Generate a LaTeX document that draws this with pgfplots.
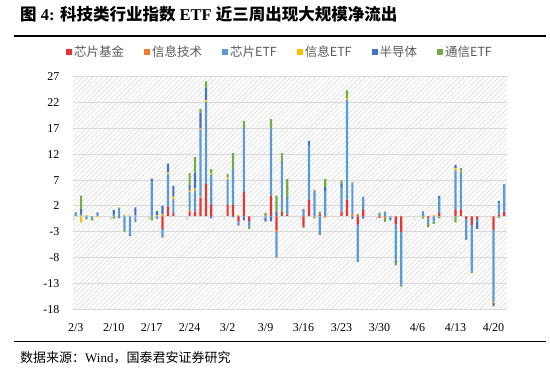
\documentclass[border=0pt]{standalone}
\usepackage{fontspec}
\setmainfont{Liberation Serif}
\newfontfamily\cjk{Noto Sans CJK SC}
\usepackage{pgfplots}
\pgfplotsset{compat=1.18}
\usepackage{pgfplotstable}
\usetikzlibrary{patterns.meta}
\definecolor{cA}{RGB}{235,51,51}
\definecolor{cB}{RGB}{237,125,49}
\definecolor{cC}{RGB}{91,155,213}
\definecolor{cE}{RGB}{255,192,0}
\definecolor{cF}{RGB}{68,114,196}
\definecolor{cG}{RGB}{112,173,71}
\definecolor{lgray}{RGB}{89,89,89}
\definecolor{gridc}{RGB}{217,217,217}

% a=芯片基金 b=信息技术 c=芯片ETF e=信息ETF f=半导体 g=通信ETF ; d = days since 2/3
\pgfplotstableread{
d a b c e f g
0 0 0 0.3 0 0.2 0.3
1 0 0.1 0.2 0 1.1 2.6
2 0 0.1 0 0.1 0 0
3 0 0 0 0 0 0
4 0 0 0.35 0 0.35 0
7 0 0 0.4 0 0.85 0
8 0 0 1.6 0.1 0 0
9 0 0 0 0.2 0 0
10 0 0.1 0 0 0 0
11 0 0 0 0.1 1.6 0
14 0 0 6.8 0 0.5 0
15 0 0 0 0.2 0.8 0
16 0 0.2 0 0.2 1.6 0
17 1.9 0 6.35 0.25 1.7 0
18 0.6 0 2.7 0.5 2.1 0
21 0.8 0.45 3.4 0.3 1.15 2.25
22 0.9 0 4.0 0.45 3.1 3.0
23 3.5 0.3 13.0 0.2 3.1 0.7
24 6.2 0 15.9 0.4 2.4 1.2
25 2.2 0 5.8 0.3 0 0.8
28 2.2 0 4.9 0.4 0.2 0.5
29 2.2 0 6.9 0 0 3.1
30 0 0 0 0.2 0 0
31 4.65 0 12.4 0 0 1.4
32 0 0 0 0 0 0
35 0 0.2 0 0 0 0.4
36 4.0 0 13.0 0 0 1.8
37 0 0 0 0 0.9 3.1
38 0.8 0.25 9.0 0 0.4 1.75
39 0.25 0.15 2.9 0 0.3 3.6
42 0 0 0.9 0 0.45 0
43 3.2 0 10.6 0 0.8 0
44 0 0 5.0 0.2 0 0
45 0.35 0 0 0 0 0.55
46 0 0 4.85 0 0.85 1.5
49 0.9 0 4.8 0 0.65 0.6
50 3.1 0.2 19.2 0.3 0 1.55
51 0 0.4 5.9 0 0 0.3
52 0 0.4 0 0 0 0
53 1.2 0 2.6 0 0 0
56 0 0 0.2 0 0 0.5
57 0 0 0.9 0 0 0
58 0 0 0 0 0 0
59 0 0 0 0 0 0
60 0 0 0 0 0 0
64 0 0 1.0 0 0 0
65 0 0 0 0 0 0
66 0 0 0 0.2 0 0
67 0.65 0 2.85 0 0.45 0
70 1.35 0 7.55 0.4 0.65 0
71 1.35 0 7.2 0.15 0.1 0.5
72 0 0 0 0 0 0
73 0 0 0 0 0 0
74 0 0 0 0 0 0
77 0 0 0 0 0 0
78 0.35 0 2.15 0 0.45 0
79 0.9 0 5.3 0 0 0
}\pos

\pgfplotstableread{
d a b c e f g
0 0 0 0 0 0 0
1 0 0 0 -1.2 0 0
2 0 0 -0.3 0 0 -0.3
3 0 0 -0.3 0 0 -0.5
4 0 0 0 -0.2 0 0
7 0 0 0 0 0 -0.45
8 0 0 0 0 -0.3 0
9 0 0 -2.7 0 0 -0.25
10 0 0 -3.5 0 -0.3 0
11 0 0 -1.1 0 0 0
14 0 0 0 0 0 -0.8
15 0 0 -0.5 0 0 0
16 -2.5 0 -1.5 0 0 -0.15
17 0 0 0 0 0 0
18 0 0 0 0 0 0
21 0 0 0 0 0 0
22 0 0 0 0 0 0
23 0 0 0 0 0 0
24 0 0 0 0 0 0
25 0 0 0 0 -0.4 0
28 0 0 0 0 0 0
29 0 0 0 0 -0.2 0
30 -1.0 0 -0.8 0 0 0
31 0 0 0 0 -0.8 0
32 -0.9 0 -1.1 0 0 -0.5
35 0 0 -0.5 0 -0.5 0
36 0 0 0 0 -1.0 0
37 -2.75 -0.25 -5.0 0 0 0
38 0 0 0 0 0 0
39 0 0 0 0 0 0
42 -2.0 0 0 0 0 -0.25
43 0 0 0 0 0 0
44 0 0 0 0 0 -0.4
45 0 0 -3.6 0 0 0
46 0 -0.25 0 0 0 0
49 0 0 0 0 0 0
50 0 0 0 0 0 0
51 0 0 0 0 -0.5 0
52 -1.6 0 -7.2 0 0 0
53 0 0 0 0 -0.45 0
56 -0.3 0 0 0 0 0
57 -0.2 0 0 0 0 -0.9
58 0 0 -0.3 0 -0.5 0
59 -1.6 0 -7.0 0 -0.2 -0.7
60 -3.0 0 -10.3 0 0 -0.3
64 0 0 0 0 0 -0.45
65 -0.4 0 -1.1 0 0 -0.65
66 0 0 -1.0 0 0 -0.45
67 0 0 0 0 0 -0.4
70 0 0 0 0 0 -1.2
71 0 0 0 0 0 0
72 -0.5 0 -3.6 0 -0.4 0
73 -1.7 0 -9.0 0 0 -0.3
74 -0.55 0 -0.6 0 -1.3 0
77 -2.65 0 -13.9 -0.25 -0.4 -0.25
78 0 0 0 0 0 -0.35
79 0 0 0 0 0 0
}\neg

\pgfplotsset{
  common/.style={
    at={(73pt,-309.3pt)}, anchor=south west,
    width=434pt, height=232.6pt, scale only axis,
    xmin=-0.5, xmax=79.5, ymin=-18, ymax=27,
    ybar stacked, bar width=2.2pt,
  }
}

\begin{document}
\begin{tikzpicture}
\useasboundingbox (0pt,0pt) rectangle (550pt,-378pt);
% title
\node[anchor=west, inner sep=0pt] at (20pt,-14pt)
  {\fontsize{16.5}{19}\selectfont\bfseries {\cjk 图} 4: {\cjk 科技类行业指数} ETF {\cjk 近三周出现大规模净流出}};
\draw[line width=1.3pt] (14pt,-36pt) -- (546pt,-36pt);
\draw[line width=1pt] (14pt,-341pt) -- (546pt,-341pt);
\node[anchor=west, inner sep=0pt] at (20pt,-358pt)
  {\fontsize{13}{15}\selectfont {\cjk 数据来源：}Wind{\cjk ，国泰君安证券研究}};

\begin{axis}[common,
  axis background/.style={fill=white, postaction={pattern={Lines[angle=45,distance=3.5pt,line width=0.6pt]}, pattern color=black!14}},
  axis lines*=left, axis line style={draw=none},
  major tick length=0pt,
  ymajorgrids, major grid style={draw=gridc, line width=1pt},
  ytick={-18,-13,...,27},
  xtick={0,7,...,77},
  xticklabels={2/3,2/10,2/17,2/24,3/2,3/9,3/16,3/23,3/30,4/6,4/13,4/20},
  /pgf/number format/assume math mode=true,
  yticklabel style={font=\fontsize{12}{14}\selectfont, xshift=-10pt},
  xticklabel style={font=\fontsize{12}{14}\selectfont, yshift=-11pt},
  legend image code/.code={\fill[#1] (0pt,-3pt) rectangle (6pt,3pt);},
  legend style={at={(0.477,1.106)}, anchor=center, draw=none, fill=none,
    font=\cjk\fontsize{12.5}{14}\selectfont\color{lgray},
    /tikz/every even column/.append style={column sep=18pt}},
  legend columns=6,
]
\draw[gridc, line width=0.8pt] (axis cs:-0.5,0) -- (axis cs:79.5,0);
\pgfplotsinvokeforeach{-0.5,6.5,13.5,20.5,27.5,34.5,41.5,48.5,55.5,62.5,69.5,76.5}{
  \draw[gridc, line width=1.2pt] (axis cs:#1,0) -- ++(0pt,-4pt);
}
\addplot[fill=cA, draw=none] table[x=d,y=a]{\pos};
\addplot[fill=cB, draw=none] table[x=d,y=b]{\pos};
\addplot[fill=cC, draw=none] table[x=d,y=c]{\pos};
\addplot[fill=cE, draw=none] table[x=d,y=e]{\pos};
\addplot[fill=cF, draw=none] table[x=d,y=f]{\pos};
\addplot[fill=cG, draw=none] table[x=d,y=g]{\pos};
\legend{芯片基金,信息技术,芯片ETF,信息ETF,半导体,通信ETF}
\end{axis}

\begin{axis}[common, hide axis]
\addplot[fill=cA, draw=none] table[x=d,y=a]{\neg};
\addplot[fill=cB, draw=none] table[x=d,y=b]{\neg};
\addplot[fill=cC, draw=none] table[x=d,y=c]{\neg};
\addplot[fill=cE, draw=none] table[x=d,y=e]{\neg};
\addplot[fill=cF, draw=none] table[x=d,y=f]{\neg};
\addplot[fill=cG, draw=none] table[x=d,y=g]{\neg};
\end{axis}
\end{tikzpicture}
\end{document}
